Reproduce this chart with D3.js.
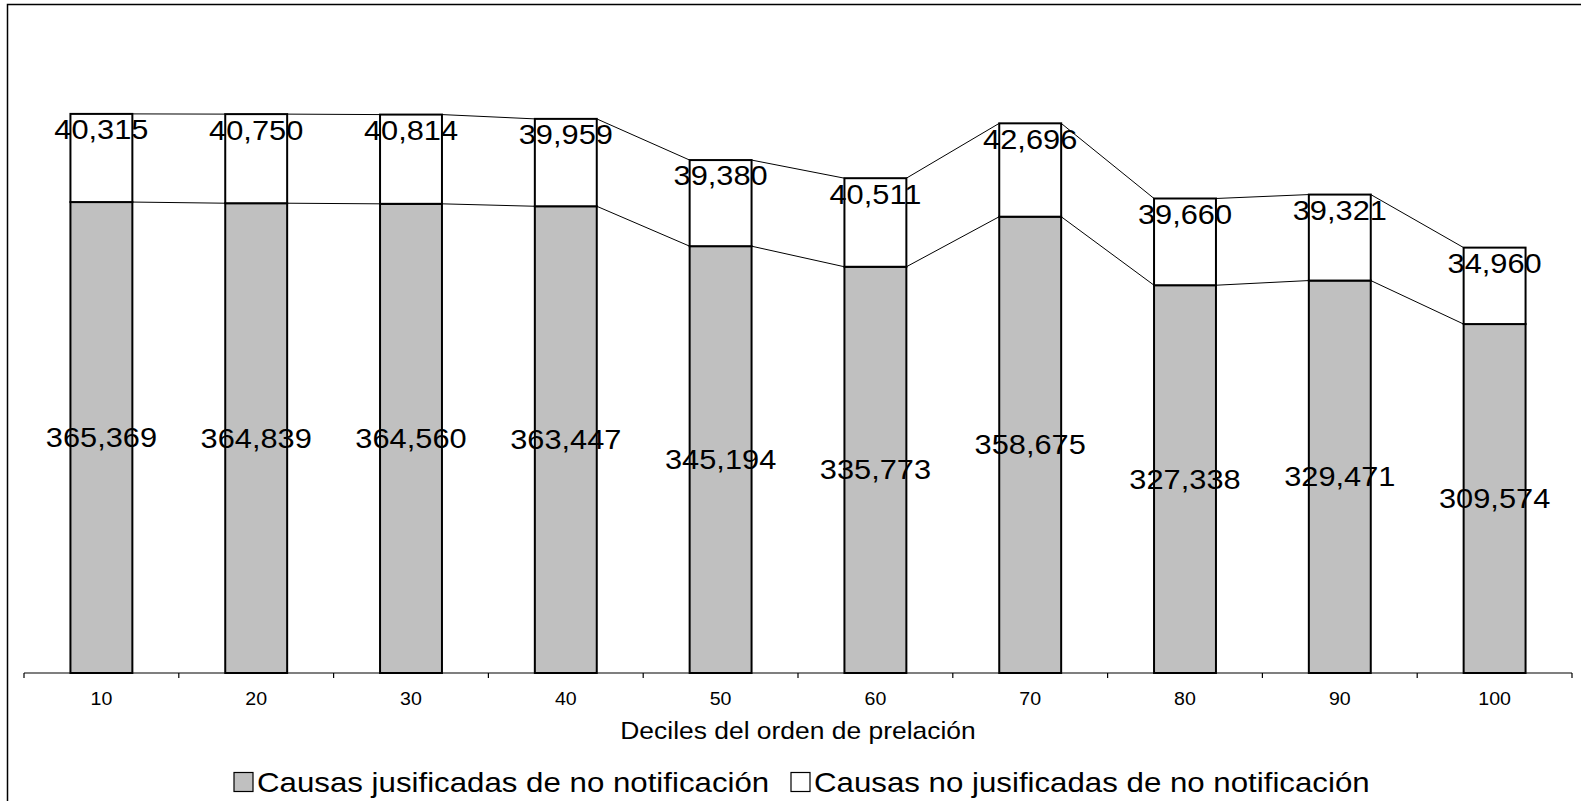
<!DOCTYPE html>
<html>
<head>
<meta charset="utf-8">
<script src="https://cdn.jsdelivr.net/npm/d3@7"></script>
<style>
  html, body { margin: 0; padding: 0; background: #fff; }
  svg { display: block; }
  text { font-family: "Liberation Sans", Arial, sans-serif; fill: #000; }
</style>
</head>
<body>
<svg id="chart" width="1581" height="801"></svg>
<script>
// ---- data ----
const categories = ["10", "20", "30", "40", "50", "60", "70", "80", "90", "100"];
const justified = [365369, 364839, 364560, 363447, 345194, 335773, 358675, 327338, 329471, 309574];
const notJustified = [40315, 40750, 40814, 39959, 39380, 40511, 42696, 39660, 39321, 34960];
const seriesNames = ["Causas jusificadas de no notificación", "Causas no jusificadas de no notificación"];
const axisTitle = "Deciles del orden de prelación";
const yDomain = [150000, 450000];

// ---- layout ----
const W = 1581, H = 801;
const plot = { left: 24, right: 1572, top: 17, bottom: 673 };
const SX = 1.12; // horizontal text stretch seen in reference
const svg = d3.select("#chart");

// outer frame
svg.append("rect").attr("x", 7.5).attr("y", 4.5).attr("width", W + 50).attr("height", H + 50)
  .attr("fill", "none").attr("stroke", "#000").attr("stroke-width", 1.5);

const x = d3.scaleBand().domain(categories).range([plot.left, plot.right])
  .paddingInner(0.6).paddingOuter(0.3);
const y = d3.scaleLinear().domain(yDomain).range([plot.bottom, plot.top]);

const rows = categories.map((c, i) => ({ cat: c, a: justified[i], b: notJustified[i], total: justified[i] + notJustified[i] }));

function stretchedText(parent, px, py, str, size) {
  const g = parent.append("g").attr("transform", `translate(${px},${py})`);
  g.append("text").attr("transform", `scale(${SX},1)`)
    .attr("text-anchor", "middle").attr("dominant-baseline", "central")
    .attr("font-size", size).text(str);
  return g;
}

// series lines
const bw = x.bandwidth();
const lineG = svg.append("g").attr("stroke", "#000").attr("stroke-width", 1).attr("fill", "none");
for (let i = 0; i < rows.length - 1; i++) {
  const x1 = x(rows[i].cat) + bw, x2 = x(rows[i + 1].cat);
  lineG.append("line").attr("x1", x1).attr("x2", x2).attr("y1", y(rows[i].a)).attr("y2", y(rows[i + 1].a));
  lineG.append("line").attr("x1", x1).attr("x2", x2).attr("y1", y(rows[i].total)).attr("y2", y(rows[i + 1].total));
}

// bars
const barG = svg.append("g");
barG.selectAll("rect.a").data(rows).join("rect").attr("class", "a")
  .attr("x", d => x(d.cat)).attr("width", bw)
  .attr("y", d => y(d.a)).attr("height", d => y(yDomain[0]) - y(d.a))
  .attr("fill", "#C0C0C0").attr("stroke", "#000").attr("stroke-width", 2);
barG.selectAll("rect.b").data(rows).join("rect").attr("class", "b")
  .attr("x", d => x(d.cat)).attr("width", bw)
  .attr("y", d => y(d.total)).attr("height", d => y(d.a) - y(d.total))
  .attr("fill", "#fff").attr("stroke", "#000").attr("stroke-width", 2);

// axis
const axisG = svg.append("g").attr("stroke", "#000").attr("stroke-width", 1.2);
axisG.append("line").attr("x1", plot.left).attr("x2", plot.right).attr("y1", plot.bottom).attr("y2", plot.bottom);
const step = x.step();
d3.range(categories.length + 1).forEach(i => {
  const tx = plot.left + i * step;
  axisG.append("line").attr("x1", tx).attr("x2", tx).attr("y1", plot.bottom).attr("y2", plot.bottom + 5);
});
const tickG = svg.append("g");
rows.forEach(d => stretchedText(tickG, x(d.cat) + bw / 2, 699, d.cat, 17.5));
stretchedText(svg, (plot.left + plot.right) / 2, 731, axisTitle, 23.6);

// data labels
const fmt = d3.format(",");
const labG = svg.append("g");
rows.forEach(d => {
  const cx = x(d.cat) + bw / 2;
  stretchedText(labG, cx, (y(d.a) + y(yDomain[0])) / 2, fmt(d.a), 27.5);
  stretchedText(labG, cx, y(d.total) + 16, fmt(d.b), 27.5);
});

// legend
const legG = svg.append("g");
const legY = 782, sq = 19;
const fills = ["#C0C0C0", "#fff"];
const legX = [234, 791];
seriesNames.forEach((name, i) => {
  legG.append("rect").attr("x", legX[i]).attr("y", legY - sq / 2).attr("width", sq).attr("height", sq)
    .attr("fill", fills[i]).attr("stroke", "#000").attr("stroke-width", 1.2);
  const g = legG.append("g").attr("transform", `translate(${legX[i] + sq + 4},${legY})`);
  g.append("text").attr("transform", `scale(${SX},1)`).attr("dominant-baseline", "central")
    .attr("font-size", 27.9).text(name);
});
</script>
</body>
</html>
